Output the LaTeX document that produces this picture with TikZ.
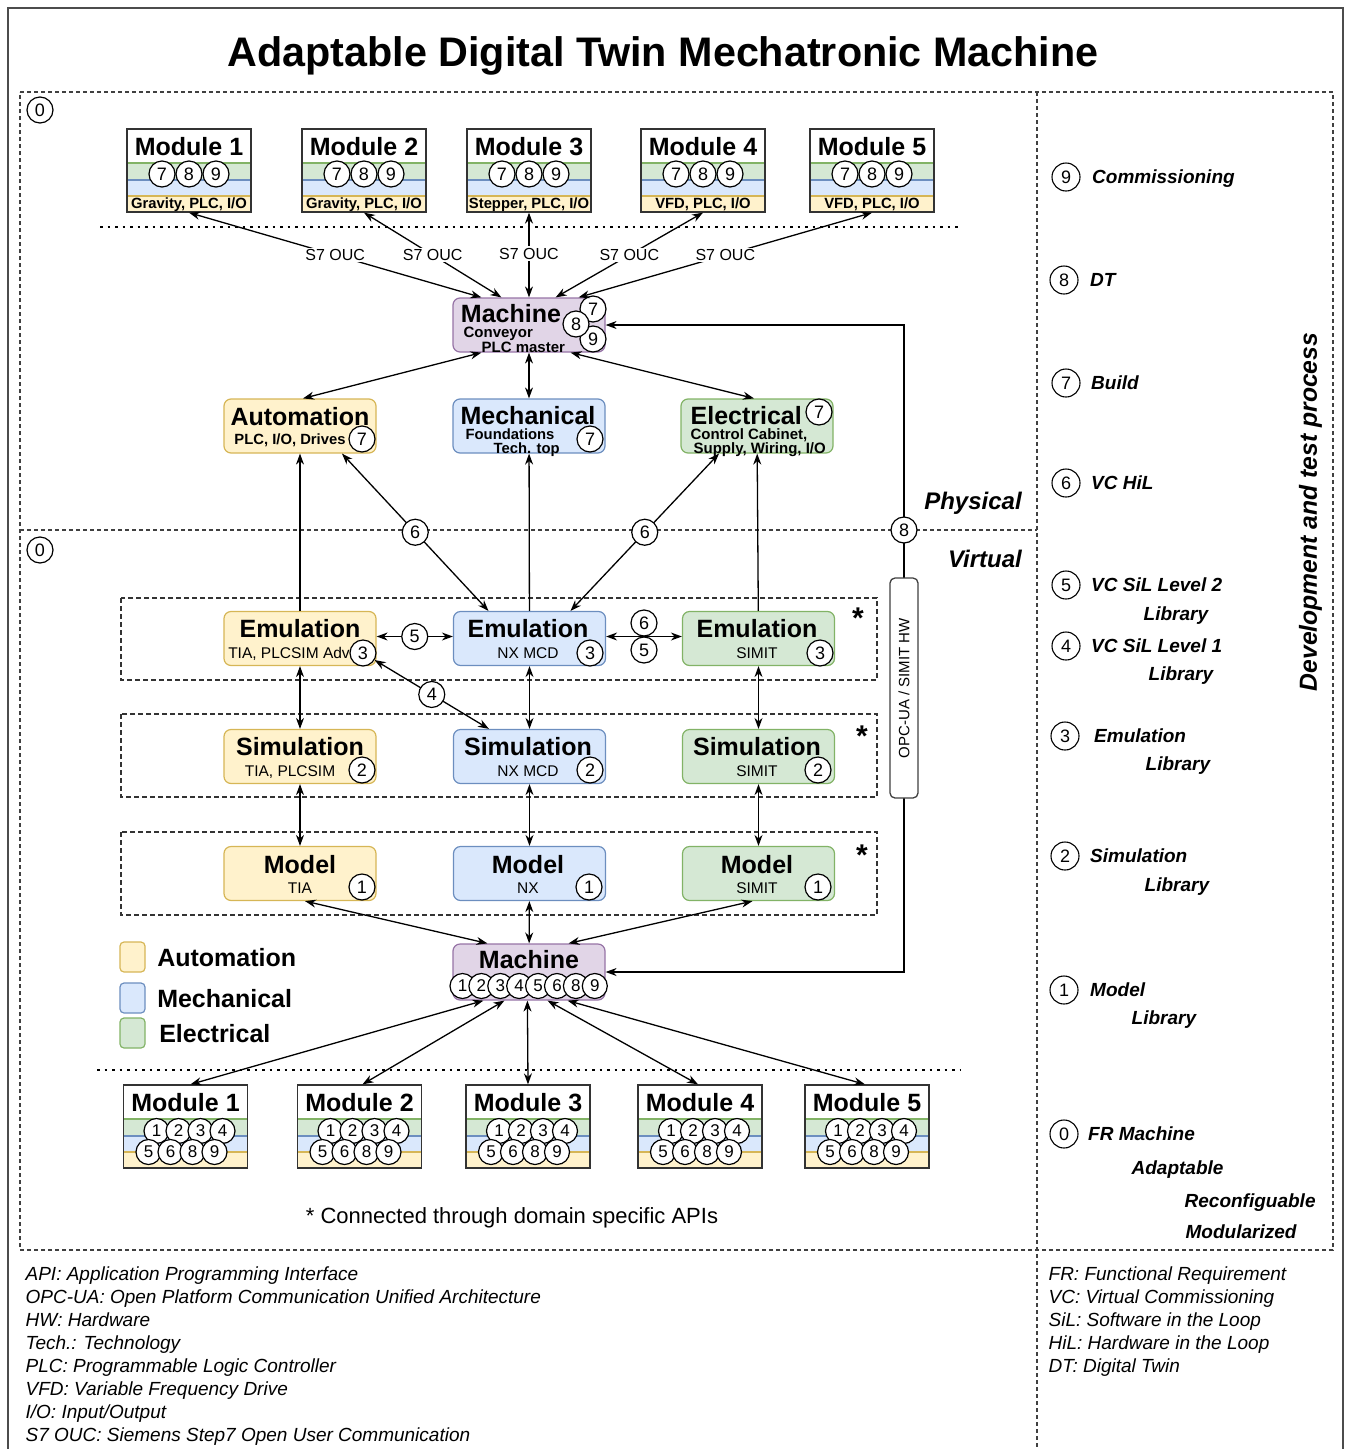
\documentclass[tikz,border=0pt]{standalone}
\usepackage{fontspec}
\setmainfont{Liberation Sans}
\usetikzlibrary{arrows.meta,positioning}

\definecolor{autofill}{HTML}{FFF2CC}
\definecolor{autoline}{HTML}{D6B656}
\definecolor{mechfill}{HTML}{DAE8FC}
\definecolor{mechline}{HTML}{6C8EBF}
\definecolor{elecfill}{HTML}{D5E8D4}
\definecolor{elecline}{HTML}{82B366}
\definecolor{machfill}{HTML}{E1D5E7}
\definecolor{machline}{HTML}{9673A6}

\newcommand{\fsz}[1]{\fontsize{#1}{#1}\selectfont}

\begin{document}
\begin{tikzpicture}[
    x=1pt, y=-1pt, line width=1.3pt,
    >={Stealth[length=11pt,width=8pt]},
    txt/.style = {inner sep=0pt, text depth=0pt},
    ttl/.style = {txt, font=\fsz{25}\bfseries, text height=18pt},
    subr/.style = {txt, font=\fsz{15.5}, text height=11.2pt},
    subb/.style = {txt, font=\fsz{14.8}\bfseries, text height=10.6pt},
    num/.style = {circle, draw, fill=white, line width=1.2pt, inner sep=0pt, minimum size=26pt, font=\fsz{18}},
    num-sm/.style = {num, minimum size=25pt, font=\fsz{17}},
    rp-num/.style = {num, minimum size=28pt, line width=1.1pt},
    rp-lbl/.style = {txt, font=\fsz{19}\bfseries\itshape, text height=13.7pt},
    s7/.style = {txt, font=\fsz{16}, text height=11.5pt, fill=white, inner sep=1.5pt},
    foot/.style = {txt, font=\fsz{19}\itshape, text height=13.7pt, anchor=west},
    astk/.style = {txt, font=\fsz{30}\bfseries, text height=21.5pt, anchor=north},
    blk/.style = {rounded corners=7pt, line width=1.2pt, minimum width=152pt, minimum height=54pt, inner sep=0pt},
    auto-blk/.style = {blk, draw=autoline, fill=autofill},
    mech-blk/.style = {blk, draw=mechline, fill=mechfill},
    elec-blk/.style = {blk, draw=elecline, fill=elecfill},
    mach-blk/.style = {blk, draw=machline, fill=machfill},
    leg/.style = {rounded corners=4pt, line width=1.2pt, minimum width=25pt, minimum height=30pt, inner sep=0pt},
    mod/.style = {draw=black!80, line width=1.3pt, fill=white, minimum width=124pt, minimum height=83pt, inner sep=0pt,
      path picture={
        \fill[elecfill] ([yshift=-34pt]path picture bounding box.north west) rectangle ([yshift=-51pt]path picture bounding box.north east);
        \fill[mechfill] ([yshift=-51pt]path picture bounding box.north west) rectangle ([yshift=-67pt]path picture bounding box.north east);
        \fill[autofill] ([yshift=-67pt]path picture bounding box.north west) rectangle (path picture bounding box.south east);
        \draw[elecline, line width=1.2pt] ([yshift=-34pt]path picture bounding box.north west) -- ([yshift=-34pt]path picture bounding box.north east);
        \draw[mechline, line width=1.2pt] ([yshift=-51pt]path picture bounding box.north west) -- ([yshift=-51pt]path picture bounding box.north east);
        \draw[autoline, line width=1.2pt] ([yshift=-67pt]path picture bounding box.north west) -- ([yshift=-67pt]path picture bounding box.north east);
      }},
    dashframe/.style = {black!75, line width=1.4pt, dash pattern=on 4pt off 3pt},
    grp/.style = {black!80, line width=1.3pt, dash pattern=on 5pt off 3pt},
    dotline/.style = {line width=2.5pt, dash pattern=on 2.5pt off 5pt}
  ]
  \useasboundingbox (0,0) rectangle (1346,1449);
  \clip (0,0) rectangle (1346,1449);

  \draw[black!70, line width=1.5pt] (8,8) rectangle (1343,1470);
  \node[txt, font=\fsz{41.3}\bfseries, text height=29.7pt] (title) at (663,52) {Adaptable Digital Twin Mechatronic Machine};

  \draw[dashframe] (20,92) -- (1333,92) -- (1333,1250) -- (20,1250) -- cycle;
  \draw[dashframe] (1037,92) -- (1037,1449);
  \draw[dashframe] (20,530) -- (1037,530);
  \draw[dotline] (100,227) -- (960,227);
  \draw[dotline] (97,1070) -- (960,1070);

  \node[num] (z-phys) at (40,110) {0};
  \node[num] (z-virt) at (40,550) {0};
  \node[txt, font=\fsz{24}\bfseries\itshape, text height=17.3pt] (phys) at (973,501) {Physical};
  \node[txt, font=\fsz{24}\bfseries\itshape, text height=17.3pt] (virt) at (985,559) {Virtual};

  % physical modules
  \foreach \i/\x/\io in {1/189/{Gravity, PLC, I/O}, 2/364/{Gravity, PLC, I/O}, 3/529/{Stepper, PLC, I/O}, 4/703/{VFD, PLC, I/O}, 5/872/{VFD, PLC, I/O}}{
    \node[mod] (tm\i) at (\x,170.5) {};
    \node[ttl] (tm\i-t) at (\x,146) {Module \i};
    \node[num] (tm\i-7) at (\x-27,174) {7};
    \node[num] (tm\i-8) at (\x,174) {8};
    \node[num] (tm\i-9) at (\x+27,174) {9};
    \node[subb] (tm\i-s) at (\x,203) {\io};
  }

  \node[mach-blk] (machT) at (529,325) {};
  \node[ttl] (machT-t) at (511,313) {Machine};
  \node[txt, font=\fsz{15}\bfseries, text height=10.8pt, anchor=west] (machT-s1) at (463,332) {Conveyor};
  \node[txt, font=\fsz{15}\bfseries, text height=10.8pt, anchor=west] (machT-s2) at (481,347) {PLC master};
  \node[num] (machT-7) at (593,309) {7};
  \node[num] (machT-9) at (593,339) {9};
  \node[num] (machT-8) at (576,324) {8};

  \draw[<->] (tm1.south) -- ([xshift=29pt]machT.north west) node[s7, midway] (s7a) {S7 OUC};
  \draw[<->] (tm2.south) -- ([xshift=49pt]machT.north west) node[s7, midway] (s7b) {S7 OUC};
  \draw[<->] (tm3.south) -- (machT.north) node[s7, pos=0.48] (s7c) {S7 OUC};
  \draw[<->] (tm4.south) -- ([xshift=-50pt]machT.north east) node[s7, midway] (s7d) {S7 OUC};
  \draw[<->] (tm5.south) -- ([xshift=-27pt]machT.north east) node[s7, midway] (s7e) {S7 OUC};

  \node[auto-blk] (autoP) at (300,426) {};
  \node[ttl] (autoP-t) at (300,416) {Automation};
  \node[subb] (autoP-s) at (290,439) {PLC, I/O, Drives};
  \node[num] (autoP-7) at (362,439) {7};

  \node[mech-blk] (mechP) at (529,426) {};
  \node[ttl] (mechP-t) at (528,415) {Mechanical};
  \node[subb, anchor=west] (mechP-s1) at (465,434) {Foundations};
  \node[subb, anchor=west] (mechP-s2) at (493,448) {Tech. top};
  \node[num] (mechP-7) at (590,439) {7};

  \node[elec-blk] (elecP) at (757,426) {};
  \node[ttl, anchor=west] (elecP-t) at (690,415) {Electrical};
  \node[subb, font=\fsz{15}\bfseries, anchor=west] (elecP-s1) at (690,434) {Control Cabinet,};
  \node[subb, font=\fsz{15}\bfseries, anchor=west] (elecP-s2) at (693,448.5) {Supply, Wiring, I/O};
  \node[num] (elecP-7) at (819,412) {7};

  \draw[<->] ([xshift=29pt]machT.south west) -- ([xshift=3pt]autoP.north);
  \draw[<->] (machT) -- (mechP);
  \draw[<->] ([xshift=-35pt]machT.south east) -- ([xshift=-3pt]elecP.north);

  % virtual domains
  \draw[grp] (121,598) rectangle (877,680);
  \draw[grp] (121,714) rectangle (877,797);
  \draw[grp] (121,832) rectangle (877,915);
  \node[astk] (st-em) at (858,606) {*};
  \node[astk] (st-sim) at (862,724) {*};
  \node[astk] (st-mdl) at (862,843) {*};

  \node[auto-blk] (emA) at (300,638.5) {};
  \node[ttl] (emA-t) at (300,628) {Emulation};
  \node[subr] (emA-s) at (289,653) {TIA, PLCSIM Adv};
  \node[num] (emA-3) at (363,653) {3};
  \node[mech-blk] (emM) at (529.5,638.5) {};
  \node[ttl] (emM-t) at (528,628) {Emulation};
  \node[subr] (emM-s) at (528,653) {NX MCD};
  \node[num] (emM-3) at (590,653) {3};
  \node[elec-blk] (emE) at (758.5,638.5) {};
  \node[ttl] (emE-t) at (757,628) {Emulation};
  \node[subr] (emE-s) at (757,653) {SIMIT};
  \node[num] (emE-3) at (820,653) {3};

  \node[auto-blk] (simA) at (300,756.5) {};
  \node[ttl] (simA-t) at (300,746) {Simulation};
  \node[subr] (simA-s) at (290,771) {TIA, PLCSIM};
  \node[num] (simA-2) at (362,770) {2};
  \node[mech-blk] (simM) at (529.5,756.5) {};
  \node[ttl] (simM-t) at (528,746) {Simulation};
  \node[subr] (simM-s) at (528,771) {NX MCD};
  \node[num] (simM-2) at (590,770) {2};
  \node[elec-blk] (simE) at (758.5,756.5) {};
  \node[ttl] (simE-t) at (757,746) {Simulation};
  \node[subr] (simE-s) at (757,771) {SIMIT};
  \node[num] (simE-2) at (818,770) {2};

  \node[auto-blk] (mdlA) at (300,873.5) {};
  \node[ttl] (mdlA-t) at (300,864) {Model};
  \node[subr] (mdlA-s) at (300,888) {TIA};
  \node[num] (mdlA-1) at (362,887) {1};
  \node[mech-blk] (mdlM) at (529.5,873.5) {};
  \node[ttl] (mdlM-t) at (528,864) {Model};
  \node[subr] (mdlM-s) at (528,888) {NX};
  \node[num] (mdlM-1) at (589,887) {1};
  \node[elec-blk] (mdlE) at (758.5,873.5) {};
  \node[ttl] (mdlE-t) at (757,864) {Model};
  \node[subr] (mdlE-s) at (757,888) {SIMIT};
  \node[num] (mdlE-1) at (818,887) {1};

  \draw[->] (emA) -- (autoP);
  \draw[->] (emM) -- (mechP);
  \draw[->] (emE) -- (elecP);
  \draw[<->] ([xshift=42pt]autoP.south) -- ([xshift=-41pt]emM.north) node[num, midway] (n6a) {6};
  \draw[<->] ([xshift=-38pt]elecP.south) -- ([xshift=41pt]emM.north) node[num, midway] (n6b) {6};

  \draw[<->] ([yshift=2pt]emA.east) -- ([yshift=2pt]emM.west) node[num, midway] (n5a) {5};
  \draw[<->] ([yshift=2pt]emM.east) -- ([yshift=2pt]emE.west);
  \node[num] (n6c) at (644,623) {6};
  \node[num] (n5b) at (644,650) {5};
  \draw[<->] (emA-3) -- ([xshift=36pt]simM.north west) node[num, midway] (n4) {4};

  \draw[<->] (simA) -- (emA);
  \draw[<->] (simM) -- (emM);
  \draw[<->] (simE) -- (emE);
  \draw[<->] (mdlA) -- (simA);
  \draw[<->] (mdlM) -- (simM);
  \draw[<->] (mdlE) -- (simE);

  % digital twin machine
  \node[mach-blk, minimum height=56pt] (machB) at (529,972) {};
  \node[ttl] (machB-t) at (529,959) {Machine};
  \foreach \n [count=\k from 0] in {1,2,3,4,5,6,8,9}
    \node[num-sm] (machB-\n) at ({462.5+18.9*\k},986) {\n};

  \draw[<->] ([xshift=5pt]mdlA.south) -- ([xshift=35pt]machB.north west);
  \draw[<->] (mdlM) -- (machB);
  \draw[<->] ([xshift=-6pt]mdlE.south) -- ([xshift=-37pt]machB.north east);

  \coordinate (opc-c) at (904,700);
  \draw[<->] (machT.east) -| (opc-c) |- (machB.east);
  \node[num] (n8) at (904,530) {8};
  \node[draw=black!75, fill=white, rounded corners=5pt, line width=1.3pt, minimum width=28pt, minimum height=220pt, inner sep=0pt] (opc) at (904,688) {};
  \node[txt, font=\fsz{15}, text height=10.8pt, rotate=90] (opc-t) at (opc) {OPC-UA / SIMIT HW};

  % virtual modules
  \foreach \i/\x in {1/185.5, 2/359.5, 3/528, 4/700, 5/867}{
    \node[mod] (bm\i) at (\x,1126.5) {};
    \node[ttl] (bm\i-t) at (\x,1102) {Module \i};
    \foreach \n/\dx in {1/-29, 2/-7, 3/15, 4/37}
      \node[num-sm] (bm\i-\n) at (\x+\dx,1131) {\n};
    \foreach \n/\dx in {5/-37, 6/-15, 8/7, 9/29}
      \node[num-sm] (bm\i-\n) at (\x+\dx,1152) {\n};
  }

  \draw[<->] ([xshift=5pt]bm1.north) -- ([xshift=31pt]machB.south west);
  \draw[<->] ([xshift=3pt]bm2.north) -- ([xshift=52pt]machB.south west);
  \draw[<->] (bm3.north) -- ([xshift=75pt]machB.south west);
  \draw[<->] ([xshift=-2pt]bm4.north) -- ([xshift=-58pt]machB.south east);
  \draw[<->] ([xshift=-2pt]bm5.north) -- ([xshift=-38pt]machB.south east);

  % legend
  \node[leg, draw=autoline, fill=autofill] (lg-a) at (132.5,957) {};
  \node[ttl, right=11pt of lg-a] (lg-a-t) {Automation};
  \node[leg, draw=mechline, fill=mechfill] (lg-m) at (132.5,998) {};
  \node[ttl, right=11pt of lg-m] (lg-m-t) {Mechanical};
  \node[leg, draw=elecline, fill=elecfill] (lg-e) at (132.5,1033) {};
  \node[ttl, right=13pt of lg-e] (lg-e-t) {Electrical};

  \node[txt, font=\fsz{22}, text height=15.8pt] (api-note) at (512,1216) {* Connected through domain specific APIs};

  % development and test process
  \node[rp-num] (rp9) at (1066,177) {9};
  \node[rp-lbl, right=11pt of rp9] (rp9-t) {Commissioning};
  \node[rp-num] (rp8) at (1064,280) {8};
  \node[rp-lbl, right=11pt of rp8] (rp8-t) {DT};
  \node[rp-num] (rp7) at (1066,383) {7};
  \node[rp-lbl, right=10pt of rp7] (rp7-t) {Build};
  \node[rp-num] (rp6) at (1066,483) {6};
  \node[rp-lbl, right=10pt of rp6] (rp6-t) {VC HiL};
  \node[rp-num] (rp5) at (1066,585) {5};
  \node[rp-lbl, right=10pt of rp5] (rp5-t) {VC SiL Level 2};
  \node[rp-lbl, anchor=west] (rp5-l) at (1143,614) {Library};
  \node[rp-num] (rp4) at (1066,646) {4};
  \node[rp-lbl, right=10pt of rp4] (rp4-t) {VC SiL Level 1};
  \node[rp-lbl, anchor=west] (rp4-l) at (1148,674) {Library};
  \node[rp-num] (rp3) at (1065,736) {3};
  \node[rp-lbl, right=14pt of rp3] (rp3-t) {Emulation};
  \node[rp-lbl, anchor=west] (rp3-l) at (1145,764) {Library};
  \node[rp-num] (rp2) at (1065,856) {2};
  \node[rp-lbl, right=10pt of rp2] (rp2-t) {Simulation};
  \node[rp-lbl, anchor=west] (rp2-l) at (1144,885) {Library};
  \node[rp-num] (rp1) at (1064,990) {1};
  \node[rp-lbl, right=11pt of rp1] (rp1-t) {Model};
  \node[rp-lbl, anchor=west] (rp1-l) at (1131,1018) {Library};
  \node[rp-num] (rp0) at (1064,1134) {0};
  \node[rp-lbl, right=9pt of rp0] (rp0-t) {FR Machine};
  \node[rp-lbl, anchor=west] (rp0-a) at (1131,1168) {Adaptable};
  \node[rp-lbl, anchor=west] (rp0-r) at (1184,1201) {Reconfiguable};
  \node[rp-lbl, anchor=west] (rp0-m) at (1185,1232) {Modularized};
  \node[txt, font=\fsz{24.7}\bfseries\itshape, text height=17.8pt, rotate=90] (devproc) at (1308,512) {Development and test process};

  % abbreviations
  \foreach \t [count=\k from 0] in {API: Application Programming Interface, OPC-UA: Open Platform Communication Unified Architecture, HW: Hardware, Tech.: Technology, PLC: Programmable Logic Controller, VFD: Variable Frequency Drive, I/O: Input/Output, S7 OUC: Siemens Step7 Open User Communication}
    \node[foot] (abbr-\k) at (25,{1274+23*\k}) {\t};
  \foreach \t [count=\k from 0] in {FR: Functional Requirement, VC: Virtual Commissioning, SiL: Software in the Loop, HiL: Hardware in the Loop, DT: Digital Twin}
    \node[foot] (abbr-r\k) at (1048,{1274+23*\k}) {\t};
\end{tikzpicture}
\end{document}
